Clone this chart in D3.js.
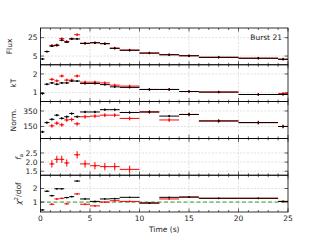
<!DOCTYPE html>
<html><head><meta charset="utf-8">
<script src="https://cdn.jsdelivr.net/npm/d3@7"></script>
<style>body{margin:0;background:#fff}svg{display:block;font-family:"DejaVu Sans",sans-serif}</style>
</head><body><svg id="c" width="320" height="240"></svg>
<script>
const binStart = [0,0.4,0.9,1.4,1.9,2.4,2.9,3.4,4,5,6,7,8,10,12,14,16,20,24];
const binEnd   = [0.4,0.9,1.4,1.9,2.4,2.9,3.4,4,5,6,7,8,10,12,14,16,20,24,25];
const fluxBlack = [1.8,9.9,15.8,16.6,22.2,20.1,23.6,23.6,18.7,19.4,18.4,13.4,11.3,8.2,6.4,5.3,3.6,2.6,1.5];
const fluxRed   = [null,null,16.5,17.0,24.0,20.8,23.8,28.2,19.0,19.6,18.6,13.6,11.5,8.3,6.5,5.4,3.7,2.7,1.6];
const kTBlack = [0.95,1.45,1.52,1.45,1.52,1.52,1.62,1.62,1.49,1.49,1.43,1.31,1.28,1.17,1.17,1.06,1.03,0.9,0.9];
const kTRed   = [null,null,1.71,1.63,1.89,1.67,1.67,1.89,1.56,1.56,1.52,1.40,1.35,1.17,1.17,1.06,1.03,0.9,0.95];
const normBlack = [80,200,242,296,255,276,317,276,337,337,367,367,330,337,284,305,221,200,150];
const normRed   = [null,null,158,192,171,234,240,184,276,284,296,296,254,337,234,305,221,200,150];
const faRed = [null,null,1.9,2.15,2.15,1.95,null,2.4,1.9,1.8,1.75,1.75,1.6,null,null,null,null,null,null];
const chiBlack = [0.42,1.8,1.47,1.98,1.98,1.33,1.4,2.55,1.23,1.05,1.23,1.25,1.35,0.93,1.35,1.37,1.28,1.28,1.05];
const chiRed   = [null,null,0.84,1.23,1.28,0.87,null,1.6,0.84,0.72,1.0,1.1,1.05,0.93,1.23,1.37,1.28,1.28,1.05];
const xTicks = [0,5,10,15,20,25];
const fluxTicks = [5,25], kTTicks = [1,2], normTicks = [150,350], faTicks = [1.5,2.0,2.5], chiTicks = [1,2];

const svg = d3.select("#c");
const L = 40.5, R = 288, T = 28, B = 212;
const ph = (B - T) / 5;
const x = d3.scaleLinear().domain([0,25]).range([L,R]);

const panels = [
  {label:"Flux", dom:[-4.5,35.5], ticks:fluxTicks, fmt:d3.format("d"), black:fluxBlack, red:fluxRed, eb:1.0, er:1.5},
  {label:"kT", dom:[0.52,2.49], ticks:kTTicks, fmt:d3.format("d"), black:kTBlack, red:kTRed, eb:0.05, er:0.08},
  {label:"Norm.", dom:[-4,471], ticks:normTicks, fmt:d3.format("d"), black:normBlack, red:normRed, eb:15, er:25},
  {label:"fa", dom:[1.28,3.3], ticks:faTicks, fmt:d3.format(".1f"), black:null, red:faRed, eb:0, er:0.2},
  {label:"chi", dom:[0.27,2.98], ticks:chiTicks, fmt:d3.format("d"), black:chiBlack, red:chiRed, eb:0, er:0}
];

panels.forEach((p,i) => {
  const y0 = T + i*ph, y1 = y0 + ph;
  const y = d3.scaleLinear().domain(p.dom).range([y1,y0]);
  const g = svg.append("g");
  // grid
  g.selectAll(".gx").data([5,10,15,20]).join("line")
    .attr("x1",d=>x(d)).attr("x2",d=>x(d)).attr("y1",y0).attr("y2",y1)
    .attr("stroke","#ccc").attr("stroke-width",0.6).attr("stroke-dasharray","2,1.5");
  g.selectAll(".gy").data(p.ticks).join("line")
    .attr("x1",L).attr("x2",R).attr("y1",d=>y(d)).attr("y2",d=>y(d))
    .attr("stroke","#ccc").attr("stroke-width",0.6).attr("stroke-dasharray","2,1.5");
  if (i===4) {
    g.append("line").attr("x1",L).attr("x2",R).attr("y1",y(1)).attr("y2",y(1))
      .attr("stroke","#2ca02c").attr("stroke-width",1).attr("stroke-dasharray","4,2.5");
  }
  const drawSeries = (vals, err, color) => {
    if (!vals) return;
    const idx = vals.map((v,k)=>k).filter(k=>vals[k]!==null);
    g.selectAll(null).data(idx).join("line")
      .attr("x1",k=>x(binStart[k])).attr("x2",k=>x(binEnd[k]))
      .attr("y1",k=>y(vals[k])).attr("y2",k=>y(vals[k]))
      .attr("stroke",color).attr("stroke-width",1);
    if (err>0) g.selectAll(null).data(idx).join("line")
      .attr("x1",k=>x((binStart[k]+binEnd[k])/2)).attr("x2",k=>x((binStart[k]+binEnd[k])/2))
      .attr("y1",k=>y(vals[k]-err)).attr("y2",k=>y(vals[k]+err))
      .attr("stroke",color).attr("stroke-width",1);
    g.selectAll(null).data(idx).join("circle")
      .attr("cx",k=>x((binStart[k]+binEnd[k])/2)).attr("cy",k=>y(vals[k])).attr("r",0.9)
      .attr("fill",color);
  };
  drawSeries(p.red, p.er, "#ff0000");
  drawSeries(p.black, p.eb, "#000000");
  // ticks inward
  const minor = d3.range(0,26,1);
  g.selectAll(null).data(minor).join("line")
    .attr("x1",d=>x(d)).attr("x2",d=>x(d)).attr("y1",y1).attr("y2",d=>y1-(d%5===0?3.5:2))
    .attr("stroke","#000").attr("stroke-width",0.6);
  g.selectAll(null).data(minor).join("line")
    .attr("x1",d=>x(d)).attr("x2",d=>x(d)).attr("y1",y0).attr("y2",d=>y0+(d%5===0?3.5:2))
    .attr("stroke","#000").attr("stroke-width",0.6);
  g.selectAll(null).data(p.ticks).join("line")
    .attr("x1",L).attr("x2",L+3.5).attr("y1",d=>y(d)).attr("y2",d=>y(d))
    .attr("stroke","#000").attr("stroke-width",0.6);
  g.selectAll(null).data(p.ticks).join("line")
    .attr("x1",R).attr("x2",R-3.5).attr("y1",d=>y(d)).attr("y2",d=>y(d))
    .attr("stroke","#000").attr("stroke-width",0.6);
  g.selectAll(null).data(p.ticks).join("text")
    .attr("x",L-3).attr("y",d=>y(d)).attr("dy","0.35em").attr("text-anchor","end")
    .attr("font-size",7.5).attr("fill","#222").text(p.fmt);
  g.append("rect").attr("x",L).attr("y",y0).attr("width",R-L).attr("height",ph)
    .attr("fill","none").attr("stroke","#000").attr("stroke-width",0.8);
  // y label
  const lx = 12, ly = (y0+y1)/2;
  const t = g.append("text").attr("transform",`translate(${lx},${ly}) rotate(-90)`)
    .attr("text-anchor","middle").attr("font-size",7.5).attr("fill","#222");
  if (p.label==="fa") {
    t.attr("transform",`translate(${lx+9},${ly}) rotate(-90)`);
    t.append("tspan").attr("font-style","italic").text("f");
    t.append("tspan").attr("font-size",5.5).attr("dy",2).text("a");
  } else if (p.label==="chi") {
    t.attr("transform",`translate(${lx+9},${ly}) rotate(-90)`);
    t.append("tspan").attr("font-style","italic").text("χ");
    t.append("tspan").attr("font-size",5.5).attr("dy",-3).text("2");
    t.append("tspan").attr("dy",3).text("/dof");
  } else {
    if (p.label!=="Flux") t.attr("transform",`translate(${lx+4},${ly}) rotate(-90)`);
    t.text(p.label);
  }
});

svg.selectAll(".xt").data(xTicks).join("text")
  .attr("x",d=>x(d)).attr("y",B+9).attr("text-anchor","middle")
  .attr("font-size",7.5).attr("fill","#222").text(d=>d);
svg.append("text").attr("x",(L+R)/2).attr("y",B+20).attr("text-anchor","middle")
  .attr("font-size",7.5).attr("fill","#222").text("Time (s)");
svg.append("text").attr("x",282).attr("y",40).attr("text-anchor","end")
  .attr("font-size",7.5).attr("fill","#222").text("Burst 21");
</script></body></html>
